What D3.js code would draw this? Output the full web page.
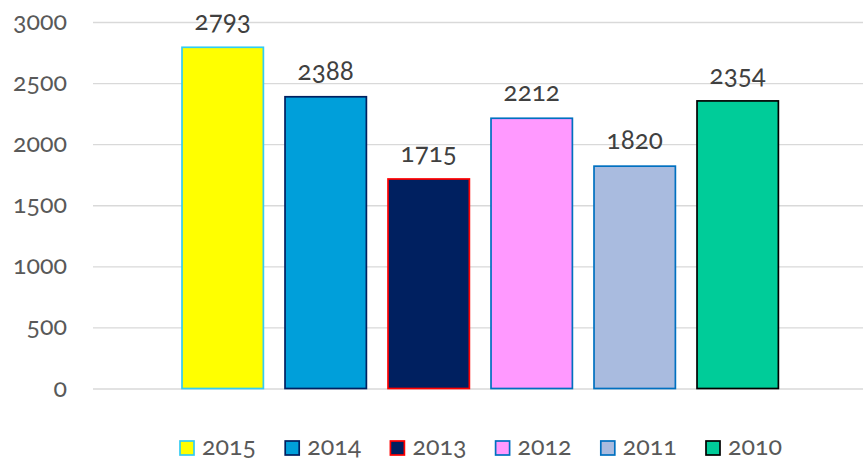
<!DOCTYPE html>
<html>
<head>
<meta charset="utf-8">
<script src="https://cdn.jsdelivr.net/npm/d3@7"></script>
<style>
  body { margin: 0; background: #fff; }
  svg text { font-family: Candara, Lato, "Open Sans", sans-serif; font-variant-numeric: oldstyle-nums; font-feature-settings: "onum" 1; }
  .tick-label { fill: #595959; font-size: 25px; }
  .bar-label { fill: #404040; font-size: 26px; }
  .legend-label { fill: #595959; font-size: 25px; }
</style>
</head>
<body>
<svg id="chart" width="863" height="461"></svg>
<script>
// values
const years = ["2015", "2014", "2013", "2012", "2011", "2010"];
const counts = [2793, 2388, 1715, 2212, 1820, 2354];
const fills = ["#ffff00", "#009fda", "#002060", "#ff99ff", "#a9bbdf", "#00cc99"];
const borders = ["#33ccf2", "#002060", "#ff0000", "#0070c0", "#0070c0", "#000000"];
const yTicks = [0, 500, 1000, 1500, 2000, 2500, 3000];

const svg = d3.select("#chart");

const plot = { left: 93, right: 867, top: 22, bottom: 388.5 };

const y = d3.scaleLinear().domain([0, 3000]).range([plot.bottom, plot.top]);

const x = d3.scaleBand()
    .domain(years)
    .range([171.2, 789.2])
    .paddingInner(0.21)
    .paddingOuter(0.105);

const data = years.map((yr, i) => ({ year: yr, value: counts[i], fill: fills[i], stroke: borders[i] }));

// gridlines
const yAxis = d3.axisLeft(y)
    .tickValues(yTicks)
    .tickSize(-(plot.right - plot.left))
    .tickPadding(26)
    .tickFormat(d3.format("d"));

const gAxis = svg.append("g")
    .attr("transform", `translate(${plot.left},0)`)
    .call(yAxis);

gAxis.select(".domain").remove();
gAxis.selectAll(".tick line")
    .attr("stroke", "#d9d9d9")
    .attr("stroke-width", 1.3);
gAxis.selectAll(".tick text")
    .attr("class", "tick-label")
    .attr("fill", null)
    .attr("dy", "0.3em");
gAxis.attr("font-family", null).attr("font-size", null);

// bars
svg.append("g")
    .selectAll("rect")
    .data(data)
    .join("rect")
    .attr("x", d => x(d.year))
    .attr("y", d => y(d.value))
    .attr("width", x.bandwidth())
    .attr("height", d => y(0) - y(d.value))
    .attr("fill", d => d.fill)
    .attr("stroke", d => d.stroke)
    .attr("stroke-width", 1.7);

// value labels
svg.append("g")
    .selectAll("text")
    .data(data)
    .join("text")
    .attr("class", "bar-label")
    .attr("x", d => x(d.year) + x.bandwidth() / 2)
    .attr("y", d => y(d.value) - 17)
    .attr("text-anchor", "middle")
    .text(d => d.value);

// legend
const lx = d3.scalePoint().domain(years).range([180, 706]);
const legend = svg.append("g")
    .selectAll("g")
    .data(data)
    .join("g")
    .attr("transform", d => `translate(${lx(d.year)},441)`);

legend.append("rect")
    .attr("width", 14)
    .attr("height", 14)
    .attr("fill", d => d.fill)
    .attr("stroke", d => d.stroke)
    .attr("stroke-width", 1.7);

legend.append("text")
    .attr("class", "legend-label")
    .attr("x", 22)
    .attr("y", 14)
    .text(d => d.year);
</script>
</body>
</html>
